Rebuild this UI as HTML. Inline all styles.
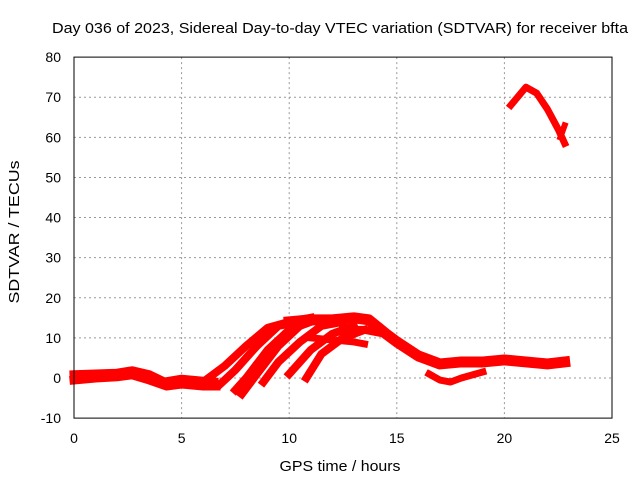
<!DOCTYPE html>
<html><head><meta charset="utf-8"><style>
body{margin:0;background:#fff}
svg{display:block;font-family:"Liberation Sans",sans-serif;font-size:14px}
</style></head><body>
<svg id="chart" width="640" height="480" viewBox="0 0 640 480">
<rect width="640" height="480" fill="#fff"/>
<text x="340" y="33" text-anchor="middle" textLength="576" lengthAdjust="spacingAndGlyphs" style="font-size:15px">Day 036 of 2023, Sidereal Day-to-day VTEC variation (SDTVAR) for receiver bfta</text>
<text x="340" y="471" text-anchor="middle" textLength="121" lengthAdjust="spacingAndGlyphs" style="font-size:15px">GPS time / hours</text>
<text transform="translate(19,232) rotate(-90)" text-anchor="middle" textLength="143" lengthAdjust="spacingAndGlyphs" style="font-size:15px">SDTVAR / TECUs</text>
<g id="grid"></g><g id="series"></g><g id="axes"></g>
</svg>
<script>
const xTicks=[0,5,10,15,20,25];
const yTicks=[-10,0,10,20,30,40,50,60,70,80];
const sBase=[[0,0.8],[1,1],[2,1.2],[2.7,1.8],[3.5,0.8],[4.2,-1],[5,-0.3],[6,-0.8],[6.5,-1]];
const sBaseLow=[[0,-0.5],[1,0],[2,0.3],[2.7,0.8],[3.5,-0.5],[4.3,-2],[5,-1.5],[6,-2],[6.6,-2]];
const trA=[[6,-1],[7,3],[8,8],[9,12.5],[10,14],[11,15]];
const trB=[[6.8,-1.5],[7.5,2],[8.5,8],[9.5,13],[10.5,14]];
const trC=[[7.5,-3],[8,0],[9,7],[10,12],[11,14]];
const trD=[[7.8,-4],[8.5,1],[9.5,8],[10.5,13]];
const trE=[[8.8,-1],[9.5,4],[10.5,9],[11.5,13],[12.5,14]];
const trF=[[10,1],[11,7],[12,11],[13,13]];
const trG=[[10.8,0],[11.5,6],[12.5,10],[13.5,12]];
const sTop=[[10,14],[11,14.5],[12,14.5],[13,15],[13.7,14.5],[14.5,11],[15,9],[16,5.5],[17,3.5],[18,4],[19,4],[20,4.5],[21,4],[22,3.5],[22.8,4]];
const sLower=[[11,10],[12,9.5],[13,9],[13.5,8.5]];
const sMid=[[12.5,12],[13.5,12],[14.5,11]];
const sDip=[[16.5,1],[17,-0.5],[17.5,-1],[18,0],[19,1.5]];
const sArc=[[20.3,68],[21,72.5],[21.5,71],[22,67],[22.5,62],[22.8,58.5]];
const sTail=[[22.6,60],[22.8,63]];
const seriesList=[[sBase,9],[sBaseLow,9],[trA,8],[trB,8],[trC,8],[trD,8],[trE,8],[trF,8],[trG,8],[sTop,11],[sLower,7],[sMid,8],[sDip,7],[sArc,7],[sTail,6]];
const X=h=>74+h*(538/25);
const Y=v=>378-v*(361/90);
const NS='http://www.w3.org/2000/svg';
const grid=document.getElementById('grid'),ser=document.getElementById('series'),ax=document.getElementById('axes');
function mk(tag,attrs,parent){const e=document.createElementNS(NS,tag);for(const k in attrs)e.setAttribute(k,attrs[k]);parent.appendChild(e);return e;}
xTicks.forEach(t=>{
  if(t>0&&t<25){const g=mk('line',{x1:X(t),x2:X(t),y1:Y(80),y2:Y(-10),stroke:'#999','stroke-dasharray':'2,3'},grid);
  
  }
  const l=mk('text',{x:X(t),y:443,'text-anchor':'middle'},ax);l.textContent=t;
  
  
});
yTicks.forEach(t=>{
  if(t>-10&&t<80){const g=mk('line',{x1:X(0),x2:X(25),y1:Y(t),y2:Y(t),stroke:'#999','stroke-dasharray':'2,3'},grid);
  
  }
  const l=mk('text',{x:61,y:Y(t)+5,'text-anchor':'end'},ax);l.textContent=t;
  
  
});
seriesList.forEach(([d,w])=>{
  const p=mk('polyline',{points:d.map(q=>X(q[0])+','+Y(q[1])).join(' '),fill:'none',stroke:'#f00','stroke-width':w,'stroke-linejoin':'round','stroke-linecap':'square'},ser);
  
  
});
const fr=mk('rect',{x:X(0),y:Y(80),width:X(25)-X(0),height:Y(-10)-Y(80),fill:'none',stroke:'#000'},ax);


</script>
</body></html>
